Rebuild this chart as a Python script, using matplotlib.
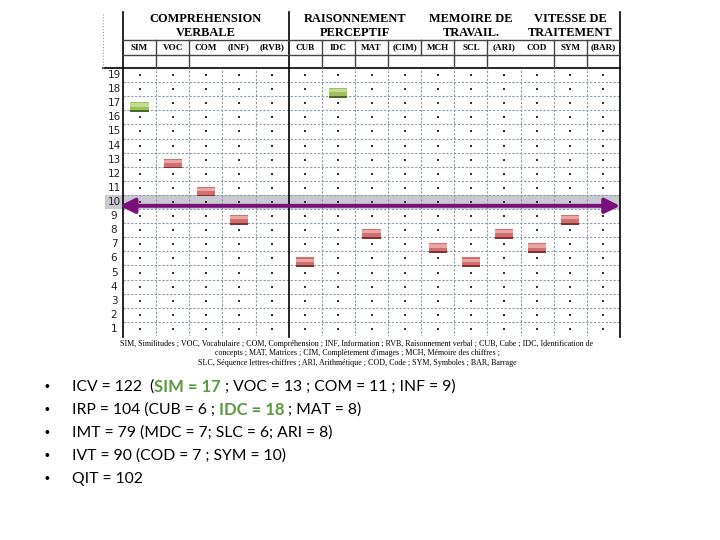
import matplotlib
matplotlib.use("Agg")
import matplotlib.pyplot as plt
from matplotlib.patches import Rectangle, FancyArrowPatch

# Données du profil
COLUMNS = ["SIM", "VOC", "COM", "(INF)", "(RVB)", "CUB", "IDC", "MAT", "(CIM)",
           "MCH", "SCL", "(ARI)", "COD", "SYM", "(BAR)"]
BAR_LABELS = ["SIM", "VOC", "COM", "(INF)", "CUB", "IDC", "MAT",
              "MCH", "SCL", "(ARI)", "COD", "SYM"]
BAR_SCORES = [17, 13, 11, 9, 6, 18, 8, 7, 6, 8, 7, 9]
HIGHLIGHTED = ["SIM", "IDC"]
ROW_VALUES = list(range(1, 20))
MEAN_SCORE = 10

GROUP_TITLES = [("COMPREHENSION", "VERBALE"), ("RAISONNEMENT", "PERCEPTIF"),
                ("MEMOIRE DE", "TRAVAIL."), ("VITESSE DE", "TRAITEMENT")]
GROUP_FIRST = ["SIM", "CUB", "MCH", "COD"]
GROUP_LAST = ["(RVB)", "(CIM)", "(ARI)", "(BAR)"]

FOOTNOTE = [
    "SIM, Similitudes ; VOC, Vocabulaire ; COM, Compréhension ; INF, Information ; "
    "RVB, Raisonnement verbal ; CUB, Cube ; IDC, Identification de",
    "concepts ; MAT, Matrices ; CIM, Complètement d'images ; MCH, Mémoire des chiffres ;",
    "SLC, Séquence lettres-chiffres ; ARI, Arithmétique ; COD, Code ; SYM, Symboles ; BAR, Barrage",
]

SUMMARY = [
    [("ICV = 122  (", False), ("SIM = 17", True), (" ; VOC = 13 ; COM = 11 ; INF = 9)", False)],
    [("IRP = 104 (CUB = 6 ; ", False), ("IDC = 18", True), (" ; MAT = 8)", False)],
    [("IMT = 79 (MDC = 7; SLC = 6; ARI = 8)", False)],
    [("IVT = 90 (COD = 7 ; SYM = 10)", False)],
    [("QIT = 102", False)],
]

GRID_COLOR = "#8d9ba6"
GREEN = "#5c9a3e"

fig = plt.figure(figsize=(7.2, 5.4), dpi=100)
ax = fig.add_axes([123 / 720, 1 - 336 / 540, 497 / 720, 268 / 540])
ax.set_xlim(-0.5, len(COLUMNS) - 0.5)
ax.set_ylim(0.5, 19.5)
ax.axis("off")

px = 268 / 19  # pixels par unité en y
def ypx(p):
    return 19.5 + (68 - p) / px

n = len(COLUMNS)
solid_bounds = [-0.5, COLUMNS.index("CUB") - 0.5, n - 0.5]

# bande grise de la moyenne
ax.add_patch(Rectangle((-1.05, MEAN_SCORE - 0.5), n - 0.5 + 1.05, 1,
                       facecolor="#c9c9d2", edgecolor="none", zorder=0,
                       clip_on=False))

# grille
for r in ROW_VALUES[:-1]:
    ax.axhline(r + 0.5, color=GRID_COLOR, lw=0.8, ls=(0, (2, 1.5)), zorder=1)
for i in range(n + 1):
    b = i - 0.5
    if b in solid_bounds:
        ax.plot([b, b], [0.5 - 0.05, ypx(12)], color="black", lw=1.2,
                clip_on=False, zorder=2)
    else:
        ax.plot([b, b], [0.45, 19.5], color=GRID_COLOR, lw=0.8,
                ls=(0, (2, 1.5)), zorder=1)

# points dans chaque case
for c in range(n):
    ax.scatter([c] * len(ROW_VALUES), ROW_VALUES, s=1.6, marker="s",
               color="#333333", lw=0, zorder=2)

# en-tête
ax.plot([-1.1, n - 0.5], [19.5, 19.5], color="black", lw=1.2, clip_on=False)
ax.plot([-0.5, n - 0.5], [ypx(55), ypx(55)], color="#444444", lw=1, clip_on=False)
ax.plot([-0.5, n - 0.5], [ypx(40), ypx(40)], color="#444444", lw=1, clip_on=False)
ax.plot([-1.1, -1.1], [ypx(68), ypx(12)], color="#999999", lw=0.8, ls=":",
        clip_on=False)
no_sep_abbr = [2.5, 3.5, 11.5]
no_sep_blank = [2.5, 3.5, 8.5, 11.5]
for i in range(1, n):
    b = i - 0.5
    if b in solid_bounds:
        continue
    if b not in no_sep_abbr:
        ax.plot([b, b], [ypx(55), ypx(40)], color="#444444", lw=1, clip_on=False)
    if b not in no_sep_blank:
        ax.plot([b, b], [19.5, ypx(55)], color="#444444", lw=1, clip_on=False)

for c, lab in enumerate(COLUMNS):
    ax.text(c, ypx(47.5), lab, ha="center", va="center", fontsize=6.6,
            fontweight="bold", family="Liberation Serif", clip_on=False)

for (l1, l2), first, last in zip(GROUP_TITLES, GROUP_FIRST, GROUP_LAST):
    xc = (COLUMNS.index(first) + COLUMNS.index(last)) / 2
    ax.text(xc, ypx(19), l1, ha="center", va="center", fontsize=8.9,
            fontweight="bold", family="Liberation Serif", clip_on=False)
    ax.text(xc, ypx(32.5), l2, ha="center", va="center", fontsize=8.9,
            fontweight="bold", family="Liberation Serif", clip_on=False)

# numéros de lignes
for r in ROW_VALUES:
    ax.text(-0.77, r, str(r), ha="center", va="center", fontsize=7.5,
            family="DejaVu Sans", color="#222222", clip_on=False)

# flèche de la moyenne
arrow = FancyArrowPatch((-0.6, MEAN_SCORE - 0.27), (n - 0.5, MEAN_SCORE - 0.27),
                        arrowstyle="<|-|>,head_length=9,head_width=4.5",
                        mutation_scale=1, shrinkA=0, shrinkB=0, lw=2.8,
                        color="#7a0f7c", zorder=4, clip_on=False)
ax.add_patch(arrow)

# barres des notes
for lab, sc in zip(BAR_LABELS, BAR_SCORES):
    c = COLUMNS.index(lab)
    if lab in HIGHLIGHTED:
        top, mid, dark = "#c3dc8f", "#9dbf5c", "#4f6a28"
    else:
        top, mid, dark = "#eaa6a4", "#d26f6c", "#7f3433"
    y0 = sc - 0.27 - 0.34
    ax.bar(c, 0.68, bottom=y0, width=0.55, color=mid, zorder=5)
    ax.bar(c, 0.22, bottom=y0 + 0.38, width=0.55, color=top, zorder=5)
    ax.bar(c, 0.12, bottom=y0, width=0.55, color=dark, zorder=5)

# légende des abréviations
for k, line in enumerate(FOOTNOTE):
    fig.text(357 / 720, 1 - (344 + 9.3 * k) / 540, line, ha="center",
             va="center", fontsize=5.8, family="Liberation Serif")

# résumé des indices
renderer = fig.canvas.get_renderer()
for k, parts in enumerate(SUMMARY):
    y = 1 - (387 + 23 * k) / 540
    fig.text(47 / 720, y, "•", ha="center", va="center", fontsize=10,
             family="Liberation Sans")
    x = 72 / 720
    for s, hl in parts:
        t = fig.text(x, y, s, ha="left", va="center",
                     fontsize=12 if hl else 11.3,
                     fontweight="bold" if hl else "normal",
                     color=GREEN if hl else "black", family="Lato")
        x += t.get_window_extent(renderer).width / fig.bbox.width

fig.savefig("out.png", dpi=100)
